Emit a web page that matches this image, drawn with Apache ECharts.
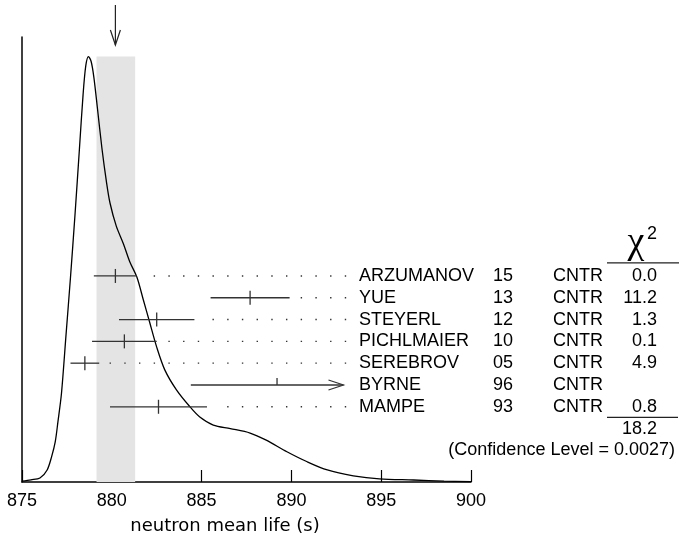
<!DOCTYPE html>
<html>
<head>
<meta charset="utf-8">
<script src="https://cdn.jsdelivr.net/npm/echarts@6/dist/echarts.min.js"></script>
<style>
html, body {margin: 0; padding: 0; background: #fff;}
#chart {width: 679px; height: 536px;}
</style>
</head>
<body>
<div id="chart"></div>
<script>
// ideogram curve (relative height)
var curve_x = [875.0, 875.5, 876.0, 876.4, 876.65, 876.85, 877.0, 877.2, 877.45, 877.7, 877.95, 878.2, 878.4, 878.55,
    878.7, 878.85, 879.0, 879.2, 879.45, 879.7, 879.9, 880.25, 880.65, 881.0, 881.4, 881.75, 882.1, 882.5, 882.95,
    883.6, 884.35, 884.9, 885.65, 886.6, 887.7, 888.6, 889.75, 890.85, 892.0, 893.45, 894.9, 896.8, 898.5, 900.0];
var curve_y = [0.002, 0.005, 0.009, 0.027, 0.057, 0.09, 0.135, 0.2, 0.33, 0.46, 0.6, 0.75, 0.87, 0.935,
    0.956, 0.945, 0.91, 0.84, 0.75, 0.675, 0.627, 0.575, 0.535, 0.495, 0.46, 0.41, 0.36, 0.303, 0.252,
    0.207, 0.169, 0.146, 0.128, 0.12, 0.11, 0.094, 0.068, 0.046, 0.027, 0.014, 0.007, 0.0045, 0.002, 0.001];

var names = ['ARZUMANOV', 'YUE', 'STEYERL', 'PICHLMAIER', 'SEREBROV', 'BYRNE', 'MAMPE'];
var years = ['15', '13', '12', '10', '05', '96', '93'];
var techs = ['CNTR', 'CNTR', 'CNTR', 'CNTR', 'CNTR', 'CNTR', 'CNTR'];
var values = [880.2, 887.7, 882.5, 880.7, 878.5, 889.2, 882.6];
var errors = [1.2, 2.2, 2.1, 1.8, 0.8, 4.8, 2.7];
var chi2 = ['0.0', '11.2', '1.3', '0.1', '4.9', '', '0.8'];
var chi2_total = '18.2';
var conf_level = '0.0027';

var avg_value = 880.2;
var avg_text = '880.2\u00b11.0 (Error scaled by 1.9)';
var band = [879.15, 881.3];
var peak = 0.956;
var arrow_max = 892.9;   // bars longer than this get an arrow
var dots_end = 893.05;

var ink = '#222';
var table_font = '18px "Liberation Sans", Arial, sans-serif';

var curve_data = curve_x.map((x, i) => [x, curve_y[i]]);
var bar_data = values.map((v, i) => [v, v - errors[i], Math.min(v + errors[i], arrow_max), i]);
var row_data = names.map((n, i) => [875, i]);
row_data.push([875, names.length], [875, names.length + 1]);

function render_avg(params, api) {
    var b0 = api.coord([band[0], peak]);
    var b1 = api.coord([band[1], 0]);
    var tip = api.coord([avg_value, 0.982]);
    var tail = api.coord([avg_value, 1.072]);
    var st = {stroke: ink, lineWidth: 1.2, fill: null};
    return {type: 'group', children: [
        {type: 'rect', shape: {x: b0[0], y: b0[1], width: b1[0] - b0[0], height: b1[1] - b0[1]},
            style: {fill: '#e4e4e4'}, z2: 0},
        {type: 'line', shape: {x1: tip[0], y1: tail[1], x2: tip[0], y2: tip[1]}, style: st},
        {type: 'polyline', shape: {points: [[tip[0] - 5, tip[1] - 15], [tip[0], tip[1]], [tip[0] + 5, tip[1] - 15]]}, style: st},
        {type: 'text', style: {text: avg_text, x: 30, y: -8.5, font: table_font, fill: '#000',
            align: 'left', verticalAlign: 'middle'}}
    ]};
}

function render_bar(params, api) {
    var i = params.dataIndex;
    var c = api.coord([api.value(0), api.value(3)]);
    var lo = api.coord([api.value(1), api.value(3)]);
    var hi = api.coord([api.value(2), api.value(3)]);
    var st = {stroke: '#333', lineWidth: 1.3};
    var kids = [
        {type: 'line', shape: {x1: lo[0], y1: c[1], x2: hi[0], y2: c[1]}, style: st},
        {type: 'line', shape: {x1: c[0], y1: c[1] - 7, x2: c[0], y2: chi2[i] === '' ? c[1] : c[1] + 7}, style: st}
    ];
    if (values[i] + errors[i] > arrow_max) {
        kids.push({type: 'polyline', shape: {points: [[hi[0] - 15, c[1] - 5], [hi[0], c[1]], [hi[0] - 15, c[1] + 5]]},
            style: {stroke: '#333', lineWidth: 1.2, fill: null}});
    } else {
        var end = api.coord([dots_end, api.value(3)]);
        // drawn right to left so the dots sit on one common grid
        kids.push({type: 'line', shape: {x1: end[0], y1: c[1], x2: hi[0] + 8, y2: c[1]},
            style: {stroke: '#333', lineWidth: 1.4, lineDash: [1.4, 13.3]}});
    }
    return {type: 'group', children: kids};
}

function render_table(params, api) {
    var i = params.dataIndex;
    var y = api.coord([875, api.value(1)])[1];
    var txt = (s, x, al) => ({type: 'text', style: {text: s, x: x, y: y, font: table_font, fill: '#000',
        align: al, verticalAlign: 'middle'}});
    var kids = [];
    if (i < names.length) {
        kids.push(txt(names[i], 359, 'left'), txt(years[i], 493, 'left'), txt(techs[i], 553, 'left'),
            txt(chi2[i], 657, 'right'));
        if (i === 0) {
            kids.push({type: 'line', shape: {x1: 607, y1: y - 13, x2: 679, y2: y - 13}, style: {stroke: ink, lineWidth: 1.2}});
        }
        if (i === names.length - 1) {
            kids.push({type: 'line', shape: {x1: 607, y1: y + 10.5, x2: 678, y2: y + 10.5}, style: {stroke: ink, lineWidth: 1.2}});
        }
    } else if (i === names.length) {
        kids.push(txt(chi2_total, 657, 'right'));
    } else {
        kids.push(txt('(Confidence Level = ' + conf_level + ')', 675, 'right'));
    }
    return {type: 'group', children: kids};
}

var chart = echarts.init(document.getElementById('chart'), null, {renderer: 'canvas'});
chart.setOption({
    animation: false,
    grid: {left: 22, right: 208, top: 37, bottom: 54},
    xAxis: {
        type: 'value', min: 875, max: 900, interval: 5,
        axisLine: {lineStyle: {color: '#000', width: 1.5}},
        axisTick: {inside: true, length: 12, lineStyle: {color: '#000', width: 1.2}},
        axisLabel: {color: '#000', fontSize: 18, fontFamily: '"Liberation Sans", Arial, sans-serif', margin: 10},
        splitLine: {show: false}
    },
    yAxis: [
        {type: 'value', min: 0, max: 1, axisLine: {show: true, lineStyle: {color: '#000', width: 1.5}},
            axisTick: {show: false}, axisLabel: {show: false}, splitLine: {show: false}},
        {type: 'value', min: -10.96, max: 9.45, inverse: true, show: false, splitLine: {show: false}}
    ],
    graphic: [
        {type: 'text', x: 225, y: 526, style: {text: 'neutron mean life (s)', font: '18px "DejaVu Sans", sans-serif',
            fill: '#000', align: 'center', verticalAlign: 'middle'}},
        {type: 'text', x: 636, y: 243, style: {text: '\u03c7', font: '38px "Liberation Serif", serif',
            fill: '#000', align: 'center', verticalAlign: 'middle'}},
        {type: 'text', x: 647, y: 234, style: {text: '2', font: table_font, fill: '#000',
            align: 'left', verticalAlign: 'middle'}}
    ],
    series: [
        {type: 'custom', name: 'average', data: [[avg_value, 0]], renderItem: render_avg, z: 1, silent: true},
        {type: 'line', name: 'ideogram', data: curve_data, smooth: 0.3, showSymbol: false, z: 3,
            lineStyle: {color: '#000', width: 1.3}},
        {type: 'custom', name: 'measurements', yAxisIndex: 1, data: bar_data, renderItem: render_bar, z: 4,
            encode: {x: [0, 1, 2], y: 3}, silent: true},
        {type: 'custom', name: 'table', yAxisIndex: 1, data: row_data, renderItem: render_table, z: 4, silent: true}
    ]
});
</script>
</body>
</html>
